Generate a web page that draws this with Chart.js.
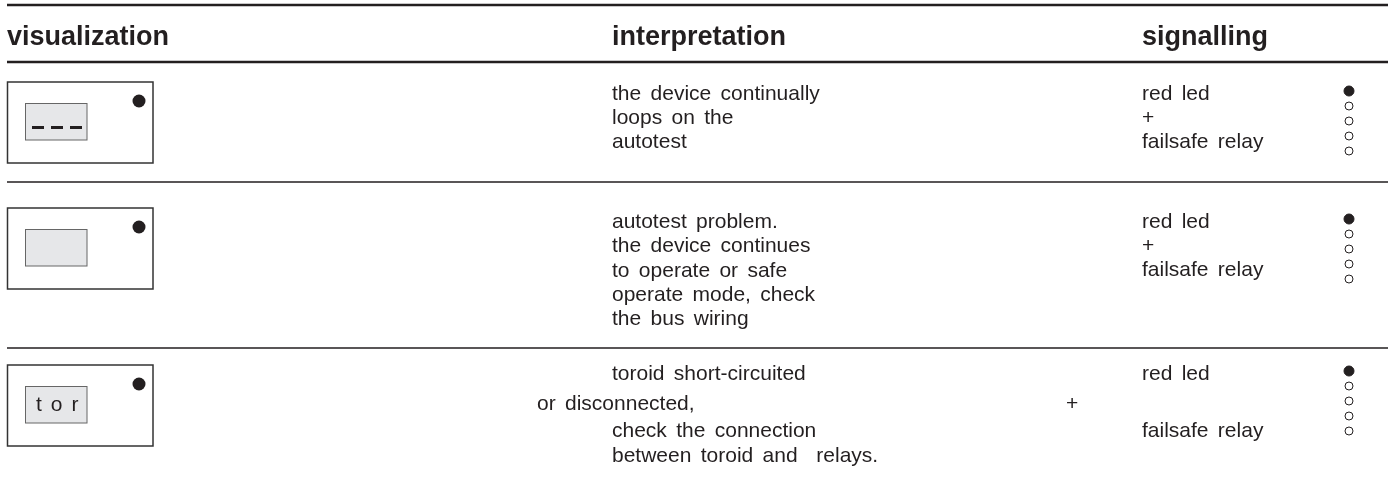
<!DOCTYPE html>
<html>
<head>
<meta charset="utf-8">
<script src="https://cdn.jsdelivr.net/npm/chart.js@4.4.1/dist/chart.umd.min.js"></script>
<style>
  html, body { margin: 0; padding: 0; background: #fff; }
  #wrap { width: 1388px; height: 482px; }
</style>
</head>
<body>
<div id="wrap"><canvas id="myChart" width="1388" height="482"></canvas></div>
<script>
// column titles
const headers = ['visualization', 'interpretation', 'signalling'];

// what the display shows in each row
const displayCodes = ['---', '', 'tor'];

// interpretation, one list of lines per row
const interpretation = [
    ['the device continually', 'loops on the', 'autotest'],
    ['autotest problem.', 'the device continues', 'to operate or safe', 'operate mode, check', 'the bus wiring'],
    ['toroid short-circuited', 'or disconnected,', 'check the connection', 'between toroid and  relays.']
];

// signalling text per row
const signalling = [
    ['red led', '+', 'failsafe relay'],
    ['red led', '+', 'failsafe relay'],
    ['red led', '+', 'failsafe relay']
];

// state of the 5 leds per row (1 = on)
const ledStates = [
    [1, 0, 0, 0, 0],
    [1, 0, 0, 0, 0],
    [1, 0, 0, 0, 0]
];

// ---- layout (pixels) ----
const W = 1388, H = 482;
const colX = [7, 612, 1142];
const ruleTop = [5, 62];
const ruleRows = [182, 348];
const boxTop = [82, 208, 365];
const textTop = [93, 221, 373];
// vertical step and x shift of each line, row 3 is laid out irregularly
const lineOffY = [[0, 24, 48], [0, 24, 49, 73, 97], [0, 30, 57, 82]];
const lineOffX = [[0, 0, 0], [0, 0, 0, 0, 0], [0, -75, 0, 0]];
const sigOffY = [[0, 24, 48], [0, 24, 48], [0, 30, 57]];
const sigOffX = [[0, 0, 0], [0, 0, 0], [0, -76, 0]];
const ledX = 1349, ledStep = 15, ledFirst = -2;

const ink = '#231f20';
const font = '"Liberation Sans", Arial, Helvetica, sans-serif';

function ruleData(ys) {
    const pts = [];
    ys.forEach(y => {
        pts.push({ x: colX[0], y: y }, { x: W, y: y }, { x: null, y: null });
    });
    return pts;
}

const ledPoints = [];
const ledFill = [];
const ledRadius = [];
ledStates.forEach((row, r) => {
    row.forEach((on, i) => {
        ledPoints.push({ x: ledX, y: textTop[r] + ledFirst + i * ledStep });
        ledFill.push(on ? ink : '#fff');
        ledRadius.push(on ? 5 : 4);
    });
});

const displayDots = boxTop.map(t => ({ x: 139, y: t + 19 }));

const tablePlugin = {
    id: 'tablePlugin',
    afterDatasetsDraw(chart) {
        const ctx = chart.ctx;
        const xs = chart.scales.x, ys = chart.scales.y;
        const px = v => xs.getPixelForValue(v);
        const py = v => ys.getPixelForValue(v);
        ctx.save();

        // headers
        ctx.fillStyle = ink;
        ctx.font = 'bold 27px ' + font;
        ctx.textBaseline = 'alphabetic';
        headers.forEach((h, i) => ctx.fillText(h, px(colX[i]), py(45)));

        // display boxes
        displayCodes.forEach((code, r) => {
            const t = boxTop[r];
            ctx.lineWidth = 1.5;
            ctx.strokeStyle = '#333';
            ctx.strokeRect(px(7.5), py(t), px(153) - px(7.5), py(t + 81) - py(t));
            ctx.fillStyle = '#e6e7e9';
            ctx.fillRect(px(25), py(t + 21), px(87) - px(25), py(t + 58) - py(t + 21));
            ctx.lineWidth = 1;
            ctx.strokeStyle = '#666';
            ctx.strokeRect(px(25.5), py(t + 21.5), px(87) - px(25.5), py(t + 58) - py(t + 21.5));
            ctx.fillStyle = ink;
            if (code === '---') {
                for (let i = 0; i < 3; i++) {
                    ctx.fillRect(px(32 + i * 19), py(t + 44), 12, 3);
                }
            } else if (code) {
                ctx.font = '21px ' + font;
                let x = 36;
                code.split('').forEach(ch => {
                    ctx.fillText(ch, px(x), py(t + 46));
                    x += ctx.measureText(ch).width + 9;
                });
            }
        });

        // interpretation and signalling
        ctx.font = '21px ' + font;
        ctx.wordSpacing = '3.5px';
        ctx.fillStyle = ink;
        interpretation.forEach((lines, r) => {
            lines.forEach((s, i) => {
                ctx.fillText(s, px(colX[1] + lineOffX[r][i]), py(textTop[r] + lineOffY[r][i] + 7));
            });
        });
        signalling.forEach((lines, r) => {
            lines.forEach((s, i) => {
                ctx.fillText(s, px(colX[2] + sigOffX[r][i]), py(textTop[r] + sigOffY[r][i] + 7));
            });
        });
        ctx.restore();
    }
};

new Chart(document.getElementById('myChart'), {
    type: 'scatter',
    data: {
        datasets: [
            {
                type: 'line',
                data: ruleData(ruleTop),
                borderColor: ink,
                borderWidth: 2.5,
                pointRadius: 0,
                spanGaps: false,
                clip: false
            },
            {
                type: 'line',
                data: ruleData(ruleRows),
                borderColor: ink,
                borderWidth: 1.6,
                pointRadius: 0,
                spanGaps: false,
                clip: false
            },
            {
                data: ledPoints,
                pointRadius: ledRadius,
                pointBackgroundColor: ledFill,
                pointBorderColor: ink,
                pointBorderWidth: 1,
                clip: false
            },
            {
                data: displayDots,
                pointRadius: 6.5,
                pointBackgroundColor: ink,
                pointBorderWidth: 0,
                clip: false
            }
        ]
    },
    options: {
        responsive: false,
        animation: false,
        devicePixelRatio: 1,
        layout: { autoPadding: false, padding: 0 },
        plugins: { legend: { display: false }, tooltip: { enabled: false } },
        scales: {
            x: { type: 'linear', min: 0, max: W, display: false },
            y: { type: 'linear', min: 0, max: H, reverse: true, display: false }
        }
    },
    plugins: [tablePlugin]
});
</script>
</body>
</html>
